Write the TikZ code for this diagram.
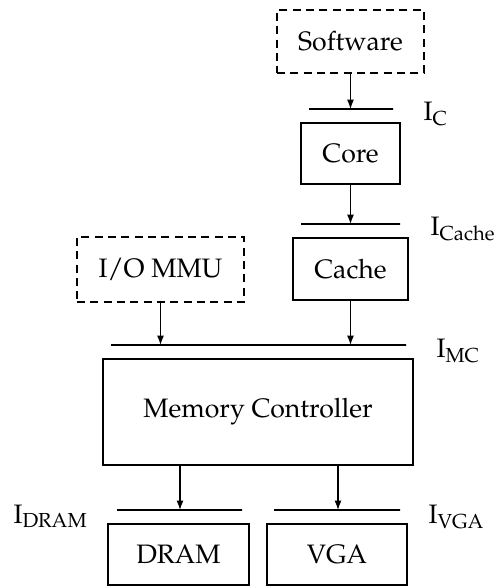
\documentclass[tikz,border=0pt]{standalone}
\usepackage[T1]{fontenc}
\usepackage{mathpazo}
\usetikzlibrary{arrows.meta}
\begin{document}
\begin{tikzpicture}[x=0.375pt,y=-0.375pt,
  box/.style={draw,line width=0.45pt,inner sep=0pt,font=\fontsize{10}{12}\selectfont},
  dbox/.style={box,dash pattern=on 3pt off 2pt},
  bar/.style={draw,line width=0.45pt,inner sep=0pt,minimum height=0pt},
  lbl/.style={anchor=base west,inner sep=0pt,font=\fontsize{10}{12}\selectfont},
  arr/.style={line width=0.45pt,-{Latex[length=3.5pt,width=2.6pt]}}]
\useasboundingbox (0,0) rectangle (495,586);
% boxes
\node[dbox,minimum width=147*0.375pt,minimum height=63*0.375pt] (sw) at (350.5,41.5) {Software};
\node[box,minimum width=99*0.375pt,minimum height=61*0.375pt] (core) at (350.5,153.5) {Core};
\node[box,minimum width=115*0.375pt,minimum height=62*0.375pt] (cache) at (350.5,269) {Cache};
\node[dbox,minimum width=167*0.375pt,minimum height=65*0.375pt] (iommu) at (160.5,269.5) {I/O MMU};
\node[box,minimum width=310*0.375pt,minimum height=106*0.375pt] (mc) at (258,412) {Memory Controller};
\node[box,minimum width=141*0.375pt,minimum height=61*0.375pt] (dram) at (178.5,554.5) {DRAM};
\node[box,minimum width=140*0.375pt,minimum height=61*0.375pt] (vga) at (337,554.5) {VGA};
% bars
\node[bar,minimum width=84*0.375pt] (ic) at (351,109) {};
\node[bar,minimum width=99*0.375pt] (icache) at (350.5,224) {};
\node[bar,minimum width=295*0.375pt] (imc) at (258.5,345) {};
\node[bar,minimum width=125*0.375pt] (idram) at (179.5,510) {};
\node[bar,minimum width=126*0.375pt] (ivga) at (337,510) {};
% labels
\node[lbl] (lic) at (423,120) {$\mathrm{I_{C}}$};
\node[lbl] (licache) at (430,235) {$\mathrm{I_{Cache}}$};
\node[lbl] (limc) at (436,357) {$\mathrm{I_{MC}}$};
\node[lbl] (lidram) at (13,523) {$\mathrm{I_{DRAM}}$};
\node[lbl] (livga) at (428,523) {$\mathrm{I_{VGA}}$};
% arrows
\draw[arr] (sw.south) -- (sw.south |- ic.center);
\draw[arr] (core.south) -- (core.south |- icache.center);
\draw[arr] (iommu.south) -- (iommu.south |- imc.center);
\draw[arr] (cache.south) -- (cache.south |- imc.center);
\coordinate (mcl) at (180,465);
\coordinate (mcr) at (338,465);
\draw[arr] (mcl) -- (mcl |- idram.center);
\draw[arr] (mcr) -- (mcr |- ivga.center);
\end{tikzpicture}
\end{document}
